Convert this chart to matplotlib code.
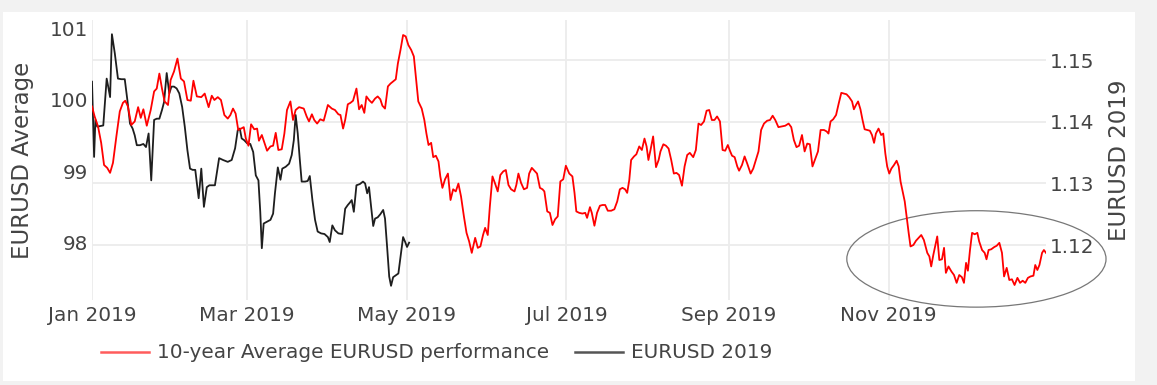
import numpy as np
import pandas as pd
import matplotlib
matplotlib.use("Agg")
import matplotlib.pyplot as plt
import matplotlib.dates as mdates
from matplotlib.patches import Ellipse, Rectangle
from matplotlib.lines import Line2D

START = pd.Timestamp("2019-01-01")

# 10-year average EURUSD performance (left axis), day of year -> value
red_day = [
    0.0, 1.0, 2.3, 3.5, 4.6, 5.8, 6.9, 8.0, 9.3, 10.6,
    11.8, 12.7, 13.7, 15.0, 16.3, 17.6, 18.6, 19.6, 20.9, 22.4,
    23.7, 24.7, 25.7, 26.7, 27.7, 29.0, 30.0, 31.3, 32.6, 33.9,
    35.1, 36.4, 37.7, 38.7, 40.0, 41.7, 43.0, 44.5, 45.7, 46.7,
    48.0, 49.2, 50.5, 51.8, 52.8, 53.8, 54.8, 55.8, 56.9, 57.9,
    58.7, 59.7, 60.7, 61.9, 63.0, 63.7, 64.8, 65.8, 66.8, 68.1,
    69.1, 70.1, 71.1, 72.4, 73.4, 74.4, 75.7, 76.7, 77.7, 79.0,
    80.8, 81.9, 82.8, 83.9, 84.8, 85.9, 87.1, 88.4,
    90.0, 91.5, 92.7, 94.0, 94.8, 95.8, 96.6, 97.6, 98.6, 99.6,
    100.9, 101.9, 102.9, 103.9, 104.7, 105.7, 106.8, 108.0, 109.0, 110.0,
    110.8, 111.8, 112.9, 113.9, 114.9, 115.9, 116.7, 117.7, 118.7, 119.7,
    120.7, 121.8, 122.8, 123.8, 124.5, 125.8, 126.8, 127.6, 128.4, 129.4,
    130.2, 131.2, 132.2, 132.9, 133.7, 134.7, 135.8, 136.8, 137.8, 138.8,
    139.8, 140.8, 141.9, 142.9, 143.9, 144.9, 146.2, 147.2, 148.2, 149.2,
    150.0, 151.0, 151.8, 152.8, 153.8, 154.8, 155.8, 156.9, 157.9, 158.9,
    159.9, 161.2, 161.9, 162.7, 163.7, 164.8, 166.0, 166.8, 167.8, 168.8,
    169.8, 170.9, 171.9, 172.6, 173.7, 174.7, 175.7, 176.7, 177.7, 178.7,
    179.8, 180.8, 182.1, 183.3, 184.1, 184.8, 185.9, 187.1, 188.2, 188.9,
    190.0, 190.7, 191.7, 192.7, 193.8, 194.8, 195.8, 196.8, 198.1, 199.3,
    200.4, 201.4, 202.4, 203.4, 204.2, 205.0, 205.7, 206.8, 207.7, 208.8,
    209.8, 210.8, 211.6, 212.3, 213.1, 214.1, 215.2, 216.2, 216.9, 218.0,
    219.0, 220.0, 221.0, 222.0, 223.0, 224.0, 225.1, 226.1, 227.1, 228.1,
    229.4, 230.4, 231.4, 232.4, 233.5, 234.5, 235.5, 236.5, 237.5, 238.5,
    239.6, 240.6, 241.6, 242.6, 243.4, 244.2, 245.2, 246.2, 246.9, 248.0,
    249.0, 250.0, 251.3, 252.3, 253.3, 254.3, 255.3, 256.4, 257.6, 258.7,
    259.7, 260.7, 261.9, 263.2, 264.5, 265.8, 266.8, 267.8, 268.8, 269.8,
    270.9, 271.9, 272.9, 273.9, 274.9, 276.0, 277.0, 278.0, 279.3, 280.3,
    281.0, 281.8, 282.8, 283.9, 284.9, 285.9, 286.9, 287.9, 288.9, 290.0,
    290.7, 291.5, 292.3, 293.2, 294.0, 294.8, 295.8, 296.8, 297.6, 298.4,
    299.1, 300.1, 301.1, 301.9, 302.7, 303.4, 304.2, 305.0, 306.0, 307.0,
    307.8, 308.5, 309.3, 310.1, 310.8, 311.6, 312.3, 313.4, 314.4, 315.4,
    316.4, 317.4, 318.7, 319.5, 320.2, 321.0, 321.8, 322.5, 323.3, 324.3,
    325.1, 325.8, 326.8, 327.9, 328.9, 329.9, 330.9, 331.9, 332.7, 333.5,
    334.2, 335.0, 335.8, 336.8, 337.8, 338.5, 339.6, 340.6, 341.3, 342.1,
    343.1, 344.2, 345.2, 346.2, 347.2, 348.0, 349.0, 350.0, 351.0, 352.0,
    353.1, 354.1, 355.1, 356.1, 357.1, 358.1, 359.2, 359.9, 360.7, 361.5,
    362.5, 363.2, 364.0,
]
red_value = [
    99.91, 99.77, 99.63, 99.40, 99.09, 99.05, 98.98, 99.12, 99.49, 99.84,
    99.96, 99.99, 99.91, 99.65, 99.70, 99.90, 99.75, 99.87, 99.64, 99.86,
    100.12, 100.16, 100.37, 100.16, 99.98, 99.93, 100.28, 100.40, 100.58, 100.30,
    100.26, 100.00, 99.99, 100.27, 100.05, 100.04, 100.09, 99.90, 100.06, 100.00,
    100.04, 100.00, 99.79, 99.74, 99.79, 99.88, 99.81, 99.58, 99.60, 99.62,
    99.46, 99.36, 99.66, 99.59, 99.60, 99.43, 99.51, 99.40, 99.29, 99.35,
    99.36, 99.54, 99.30, 99.31, 99.53, 99.86, 99.98, 99.72, 99.86, 99.90,
    99.88, 99.77, 99.70, 99.80, 99.72, 99.67, 99.73, 99.71,
    99.93, 99.88, 99.86, 99.80, 99.79, 99.60, 99.72, 99.94, 99.96, 99.99,
    100.16, 99.87, 99.93, 99.82, 100.05, 100.00, 99.96, 100.02, 100.05, 100.01,
    99.92, 99.88, 100.19, 100.23, 100.26, 100.29, 100.51, 100.70, 100.91, 100.89,
    100.77, 100.70, 100.61, 100.23, 99.98, 99.88, 99.72, 99.53, 99.37, 99.40,
    99.20, 99.22, 99.14, 98.93, 98.77, 98.89, 98.97, 98.60, 98.75, 98.72,
    98.83, 98.65, 98.37, 98.14, 98.02, 97.86, 98.07, 97.93, 97.95, 98.11,
    98.21, 98.11, 98.51, 98.93, 98.83, 98.72, 98.95, 99.00, 99.02, 98.81,
    98.75, 98.72, 98.81, 98.97, 98.84, 98.75, 98.77, 98.97, 99.05, 99.01,
    98.97, 98.77, 98.75, 98.72, 98.44, 98.42, 98.25, 98.33, 98.37, 98.86,
    98.89, 99.08, 98.97, 98.93, 98.70, 98.44, 98.42, 98.41, 98.42, 98.35,
    98.50, 98.42, 98.24, 98.42, 98.52, 98.53, 98.53, 98.45, 98.45, 98.47,
    98.58, 98.75, 98.77, 98.75, 98.70, 98.88, 99.16, 99.21, 99.24, 99.35,
    99.30, 99.46, 99.35, 99.16, 99.30, 99.49, 99.06, 99.16, 99.28, 99.38,
    99.36, 99.32, 99.16, 98.97, 98.98, 98.95, 98.80, 99.07, 99.23, 99.26,
    99.20, 99.30, 99.67, 99.65, 99.70, 99.85, 99.86, 99.72, 99.72, 99.77,
    99.70, 99.30, 99.29, 99.37, 99.29, 99.22, 99.20, 99.07, 99.01, 99.09,
    99.21, 99.11, 98.97, 99.04, 99.16, 99.28, 99.58, 99.67, 99.71, 99.72,
    99.78, 99.72, 99.62, 99.63, 99.64, 99.67, 99.62, 99.44, 99.34, 99.36,
    99.51, 99.28, 99.39, 99.38, 99.07, 99.18, 99.28, 99.58, 99.58, 99.56,
    99.53, 99.70, 99.73, 99.79, 99.95, 100.10, 100.09, 100.08, 100.04, 99.98,
    99.87, 99.93, 99.98, 99.87, 99.72, 99.59, 99.58, 99.57, 99.51, 99.40,
    99.53, 99.60, 99.51, 99.53, 99.25, 99.07, 98.97, 99.04, 99.09, 99.15,
    99.07, 98.86, 98.72, 98.58, 98.37, 98.14, 97.95, 97.97, 98.03, 98.07,
    98.11, 98.04, 97.86, 97.81, 97.67, 97.83, 97.97, 98.09, 97.76, 97.77,
    97.93, 97.58, 97.67, 97.60, 97.55, 97.44, 97.55, 97.52, 97.44, 97.72,
    97.61, 97.90, 98.14, 98.12, 98.14, 98.02, 97.90, 97.86, 97.77, 97.90,
    97.91, 97.94, 97.96, 98.00, 97.86, 97.53, 97.65, 97.48, 97.49, 97.41,
    97.51, 97.44, 97.47, 97.44, 97.51, 97.53, 97.54, 97.69, 97.62, 97.69,
    97.86, 97.90, 97.86,
]

# EURUSD 2019 (right axis)
black_day = [
    0.0, 0.8, 1.3, 2.0, 3.1, 4.3, 5.6, 6.1, 6.9, 7.6,
    8.7, 9.9, 11.2, 12.5, 13.5, 14.5, 15.5, 16.3, 17.1, 18.3,
    19.6, 20.6, 21.6, 22.6, 23.7, 24.7, 25.7, 26.7, 27.5, 28.5,
    29.5, 30.3, 31.3, 32.3, 33.3, 34.4, 35.4, 36.4, 37.4, 38.4,
    39.4, 40.7, 41.7, 42.7, 43.8, 44.8, 45.4, 46.9, 48.5, 50.0,
    51.8, 53.3, 54.6, 55.6, 56.4, 57.1, 58.1, 59.2, 60.4, 61.5,
    62.5, 63.5, 64.2, 64.8, 65.5, 66.8, 68.1, 69.1, 69.8, 70.9,
    71.9, 72.6, 73.9, 75.2, 76.2, 77.0, 77.7, 78.5, 79.3, 80.0,
    81.3, 82.3, 83.1, 84.1, 85.1, 86.1, 87.4, 88.7, 90.0, 90.7,
    91.7, 92.7, 94.0, 95.5, 96.6, 97.6, 98.4, 99.1, 99.9, 100.9,
    102.2, 103.4, 104.2, 105.0, 105.7, 106.5, 107.3, 108.0, 109.0, 110.0,
    111.1, 111.8, 112.6, 113.4, 114.1, 114.9, 115.9, 116.9, 117.9, 118.7,
    119.5, 120.2, 121.0,
]
black_value = [
    1.1465, 1.1343, 1.1403, 1.1392, 1.1393, 1.1394, 1.1470, 1.1459, 1.1440, 1.1542,
    1.1511, 1.1470, 1.1469, 1.1469, 1.1435, 1.1397, 1.1389, 1.1378, 1.1362, 1.1362,
    1.1364, 1.1359, 1.1381, 1.1305, 1.1403, 1.1405, 1.1405, 1.1419, 1.1432, 1.1479,
    1.1446, 1.1457, 1.1457, 1.1454, 1.1446, 1.1424, 1.1392, 1.1354, 1.1324, 1.1322,
    1.1322, 1.1276, 1.1324, 1.1262, 1.1294, 1.1297, 1.1297, 1.1297, 1.1341, 1.1338,
    1.1335, 1.1338, 1.1357, 1.1386, 1.1389, 1.1373, 1.1370, 1.1365, 1.1364, 1.1351,
    1.1313, 1.1305, 1.1254, 1.1195, 1.1235, 1.1238, 1.1241, 1.1251, 1.1284, 1.1326,
    1.1306, 1.1324, 1.1327, 1.1332, 1.1346, 1.1370, 1.1411, 1.1381, 1.1338, 1.1303,
    1.1303, 1.1304, 1.1312, 1.1273, 1.1241, 1.1222, 1.1219, 1.1218, 1.1213, 1.1205,
    1.1232, 1.1224, 1.1219, 1.1218, 1.1259, 1.1265, 1.1269, 1.1273, 1.1254, 1.1297,
    1.1299, 1.1303, 1.1300, 1.1284, 1.1294, 1.1262, 1.1231, 1.1243, 1.1245, 1.1250,
    1.1257, 1.1243, 1.1197, 1.1149, 1.1134, 1.1148, 1.1151, 1.1154, 1.1187, 1.1213,
    1.1205, 1.1197, 1.1204,
]

assert len(red_day) == len(red_value)
assert len(black_day) == len(black_value)

left_ticks = [98, 99, 100, 101]
right_ticks = [1.12, 1.13, 1.14, 1.15]
month_ticks = ["2019-01-01", "2019-03-01", "2019-05-01", "2019-07-01", "2019-09-01", "2019-11-01"]

# highlighted zone (ellipse annotation), in data units of the left axis
zone_days = (288.0, 386.9)
zone_values = (97.10, 98.45)


def to_dates(days):
    return START + pd.to_timedelta(np.array(days), unit="D")


W, H = 1157, 385
TXT = "#444444"
GRID = "#ececec"

fig = plt.figure(figsize=(W / 100, H / 100), dpi=100, facecolor="#f2f2f2")
fig.patches.append(Rectangle((3 / W, 4 / H), 1132 / W, 369 / H, transform=fig.transFigure,
                             facecolor="white", edgecolor="none", zorder=-10))

# base axes carries the right scale (EURUSD 2019) and the grid
ax = fig.add_axes([92 / W, 85 / H, 954 / W, 280 / H])
ax.patch.set_visible(False)
ax2 = ax.twinx()  # twin axes carries the left scale (10-year average)
ax.yaxis.tick_right()
ax2.yaxis.tick_left()

ax.plot(to_dates(black_day), black_value, color="#1e1e1e", lw=1.3)
ax.set_ylim(1.1111, 1.1565)
ax.set_yticks(right_ticks)
ax.set_yticklabels([f"{t:.2f}" for t in right_ticks])
ax.set_xlim(START, START + pd.Timedelta(days=364))
ax.set_xticks(pd.to_datetime(month_ticks))
ax.xaxis.set_major_formatter(mdates.DateFormatter("%b %Y"))
ax.grid(True, color=GRID, lw=1.3)
ax.set_axisbelow(True)
ax.tick_params(length=0, labelsize=14.4, colors=TXT)
ax.tick_params(axis="y", pad=2.5)
ax.tick_params(axis="x", pad=4)
for s in ax.spines.values():
    s.set_visible(False)

ax2.plot(to_dates(red_day), red_value, color="#ff0000", lw=1.3)
ax2.set_ylim(97.20, 101.12)
ax2.set_yticks(left_ticks)
ax2.tick_params(length=0, labelsize=14.4, colors=TXT, pad=3)
for s in ax2.spines.values():
    s.set_visible(False)

d0 = START + pd.Timedelta(days=zone_days[0])
d1 = START + pd.Timedelta(days=zone_days[1])
cx = mdates.date2num(d0 + (d1 - d0) / 2)
ell = Ellipse((cx, sum(zone_values) / 2), zone_days[1] - zone_days[0], zone_values[1] - zone_values[0],
              facecolor="none", edgecolor="#777777", lw=0.9, clip_on=False)
ax2.add_patch(ell)

fig.text(23 / W, 1 - 160 / H, "EURUSD Average", rotation=90, ha="center", va="center",
         fontsize=16.5, color=TXT)
fig.text(1119 / W, 1 - 160 / H, "EURUSD 2019", rotation=90, ha="center", va="center",
         fontsize=16.5, color=TXT)

handles = [Line2D([], [], color="#ff5c5c", lw=1.8), Line2D([], [], color="#555555", lw=1.8)]
fig.legend(handles, ["10-year Average EURUSD performance", "EURUSD 2019"],
           loc="center left", bbox_to_anchor=(101 / W, 32 / H), ncol=2, frameon=False,
           fontsize=14.4, labelcolor=TXT, handlelength=2.4, handletextpad=0.4,
           columnspacing=1.3, borderpad=0, borderaxespad=0)

fig.savefig("out.png", dpi=100, facecolor=fig.get_facecolor())
